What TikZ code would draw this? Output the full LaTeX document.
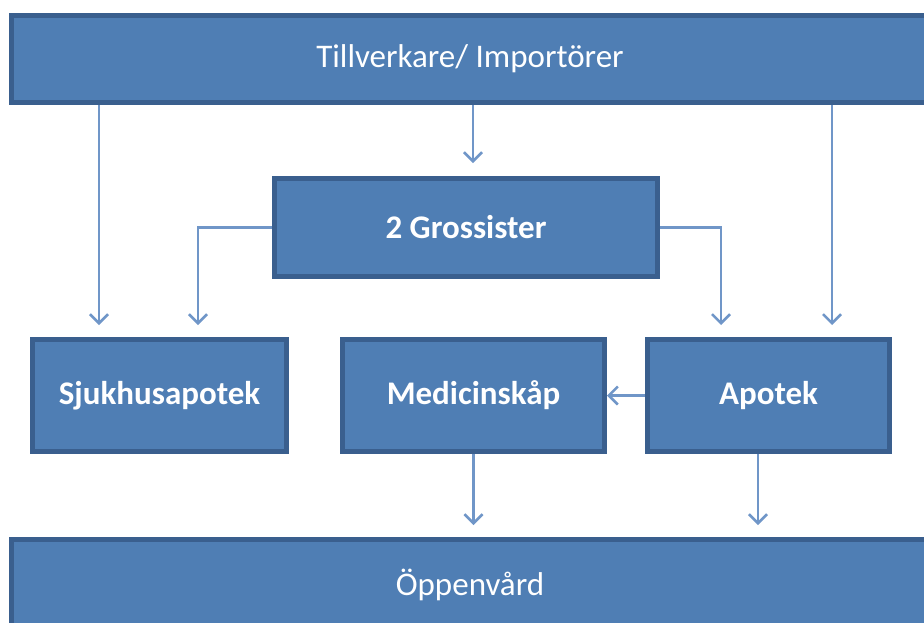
\documentclass[tikz,border=0pt]{standalone}
\usepackage{fontspec}
\setmainfont{Carlito}
\usetikzlibrary{arrows.meta}
\definecolor{boxfill}{RGB}{79,126,180}
\definecolor{boxline}{RGB}{58,95,142}
\definecolor{conn}{RGB}{112,150,200}
\tikzset{
  box/.style={draw=boxline, fill=boxfill, line width=5pt, text=white, inner sep=0pt, font=\fontsize{33}{38}\selectfont},
  bbox/.style={box, font=\fontsize{33}{38}\selectfont\bfseries},
  conn/.style={draw=conn, line width=2.5pt, -{Straight Barb[length=9pt,width=18pt,line width=2.5pt]}}
}
\begin{document}
\begin{tikzpicture}[x=1pt,y=-1pt]
\useasboundingbox (0,0) rectangle (924,622);
\clip (0,0) rectangle (924,622);
\node[box, minimum width=917pt, minimum height=87pt] (top) at (470,59) {Tillverkare/ Importörer};
\node[bbox, minimum width=383pt, minimum height=98pt] (gro) at (466,227.5) {2 Grossister};
\node[bbox, minimum width=254pt, minimum height=112pt] (sjuk) at (159.5,395.5) {Sjukhusapotek};
\node[bbox, minimum width=262pt, minimum height=112pt] (med) at (473.5,395.5) {Medicinskåp};
\node[bbox, minimum width=242pt, minimum height=112pt] (apo) at (768.5,395.5) {Apotek};
\node[box, minimum width=917pt, minimum height=90pt] (opp) at (470,584.5) {Öppenvård};
\coordinate (e1) at (99,325);
\coordinate (e2) at (198,325);
\coordinate (e3) at (721,325);
\coordinate (e4) at (832,325);
\coordinate (e5) at (473,163);
\coordinate (e6) at (473.5,525);
\coordinate (e7) at (758,525);
\draw[conn] (top.south -| e1) -- (e1);
\draw[conn] (top.south -| e5) -- (e5);
\draw[conn] (top.south -| e4) -- (e4);
\draw[conn] (gro.west) -| (e2);
\draw[conn] (gro.east) -| (e3);
\draw[conn] (apo.west) -- (med.east);
\draw[conn] (med.south -| e6) -- (e6);
\draw[conn] (apo.south -| e7) -- (e7);
\end{tikzpicture}
\end{document}
